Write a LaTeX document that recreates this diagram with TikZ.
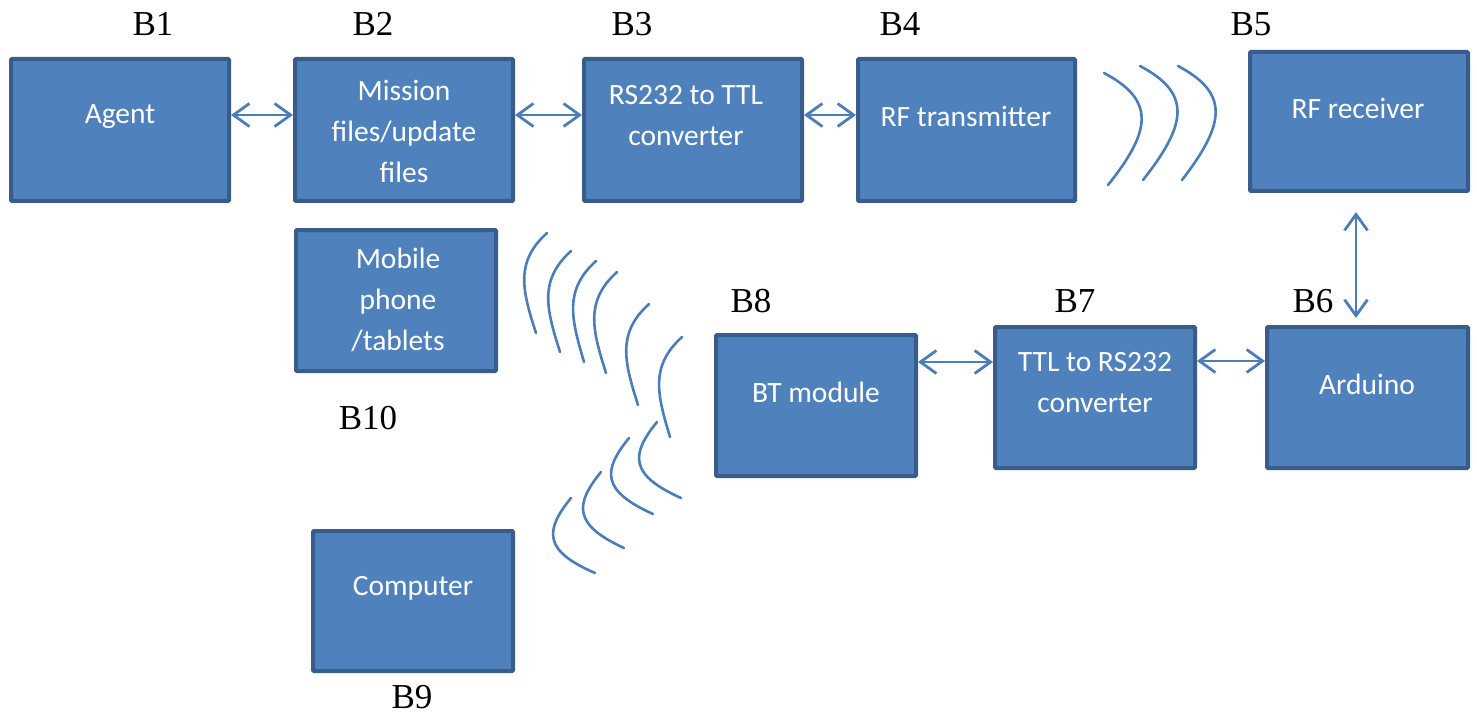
\documentclass[tikz,border=0pt]{standalone}
\usepackage{fontspec}
\setmainfont{Carlito}
\newfontfamily\labelfont{Liberation Serif}
\usetikzlibrary{arrows.meta}
\definecolor{boxfill}{HTML}{4F81BD}
\definecolor{boxline}{HTML}{385D8A}
\definecolor{wire}{HTML}{4A7EBB}
\tikzset{
  box/.style={draw=boxline, fill=boxfill, line width=4pt, rounded corners=1pt, inner sep=0pt},
  txt/.style={text=white, align=center, font=\fontsize{29.5}{41}\selectfont, inner sep=0pt},
  blabel/.style={font=\labelfont\fontsize{35}{40}\selectfont, inner sep=0pt},
  arr/.style={draw=wire, line width=2.8pt, {Straight Barb[length=16pt,width=23pt]}-{Straight Barb[length=16pt,width=23pt]}},
  wave/.style={draw=wire, line width=2.6pt, line cap=round}
}
\begin{document}
\begin{tikzpicture}[x=1pt,y=-1pt]
\useasboundingbox (0,0) rectangle (1477,714);
% boxes
\node[box, minimum width=218pt, minimum height=142pt] (b1) at (120,130) {};
\node[box, minimum width=218pt, minimum height=142pt] (b2) at (404,130) {};
\node[box, minimum width=218pt, minimum height=142pt] (b3) at (693,130) {};
\node[box, minimum width=217pt, minimum height=142pt] (b4) at (966.5,130) {};
\node[box, minimum width=218pt, minimum height=139pt] (b5) at (1359,121.5) {};
\node[box, minimum width=200pt, minimum height=141pt] (b10) at (396,300.5) {};
\node[box, minimum width=200pt, minimum height=141pt] (b8) at (816,405.5) {};
\node[box, minimum width=200pt, minimum height=141pt] (b7) at (1095,397.5) {};
\node[box, minimum width=201pt, minimum height=141pt] (b6) at (1367.5,397.5) {};
\node[box, minimum width=200pt, minimum height=140pt] (b9) at (413,601) {};
% box texts
\node[txt] (t1) at (120,117) {Agent};
\node[txt] (t2) at (404,131) {Mission\\files/update\\files};
\node[txt] (t3) at (686,116) {RS232 to TTL\\converter};
\node[txt] (t4) at (966,116) {RF transmitter};
\node[txt] (t5) at (1358,108) {RF receiver};
\node[txt] (t10) at (398,300) {Mobile\\phone\\/tablets};
\node[txt] (t8) at (816,392) {BT module};
\node[txt] (t7) at (1095,383) {TTL to RS232\\converter};
\node[txt] (t6) at (1367,384) {Arduino};
\node[txt] (t9) at (413,588) {Computer};
% labels
\node[blabel] (l1) at (153,24) {B1};
\node[blabel] (l2) at (373,24) {B2};
\node[blabel] (l3) at (632,24) {B3};
\node[blabel] (l4) at (900,24) {B4};
\node[blabel] (l5) at (1251,24) {B5};
\node[blabel] (l8) at (751,301) {B8};
\node[blabel] (l7) at (1075,301) {B7};
\node[blabel] (l6) at (1313,301) {B6};
\node[blabel] (l10) at (368,418) {B10};
\node[blabel] (l9) at (412,697) {B9};
% arrows
\draw[arr] ([yshift=15pt]b1.east) -- ([yshift=15pt]b2.west);
\draw[arr] ([yshift=15pt]b2.east) -- ([yshift=15pt]b3.west);
\draw[arr] ([yshift=15pt]b3.east) -- ([yshift=15pt]b4.west);
\draw[arr] ([yshift=43.5pt]b8.east) -- ([yshift=35.5pt]b7.west);
\draw[arr] ([yshift=36.5pt]b7.east) -- ([yshift=36.5pt]b6.west);
\coordinate (p5) at ([xshift=-3pt,yshift=-19pt]b5.south);
\draw[arr] (p5) -- ([yshift=7pt]p5 |- b6.north);
% waves between B4 and B5
\draw[wave] (1104,73) .. controls (1155,100) and (1152,130) .. (1108,185);
\draw[wave] (1140,66) .. controls (1191,93) and (1188,123) .. (1143,180);
\draw[wave] (1178,66) .. controls (1229,93) and (1226,123) .. (1182,180);
% waves from B10
\draw[wave] (547,233) .. controls (515,262) and (522,290) .. (536,333);
\draw[wave] (571,251) .. controls (539,280) and (546,308) .. (560,352);
\draw[wave] (596,261) .. controls (564,290) and (571,318) .. (584,362);
\draw[wave] (617,272) .. controls (585,301) and (592,329) .. (606,373);
\draw[wave] (649,304) .. controls (617,333) and (624,361) .. (638,405);
\draw[wave] (682,337) .. controls (650,366) and (657,394) .. (670,437);
% waves from B9
\draw[wave] (657,422) .. controls (630,455) and (630,475) .. (681,498);
\draw[wave] (629,438) .. controls (602,471) and (602,491) .. (653,514);
\draw[wave] (601,472) .. controls (574,505) and (574,525) .. (624,548);
\draw[wave] (571,498) .. controls (544,531) and (544,551) .. (595,573);
\end{tikzpicture}
\end{document}
